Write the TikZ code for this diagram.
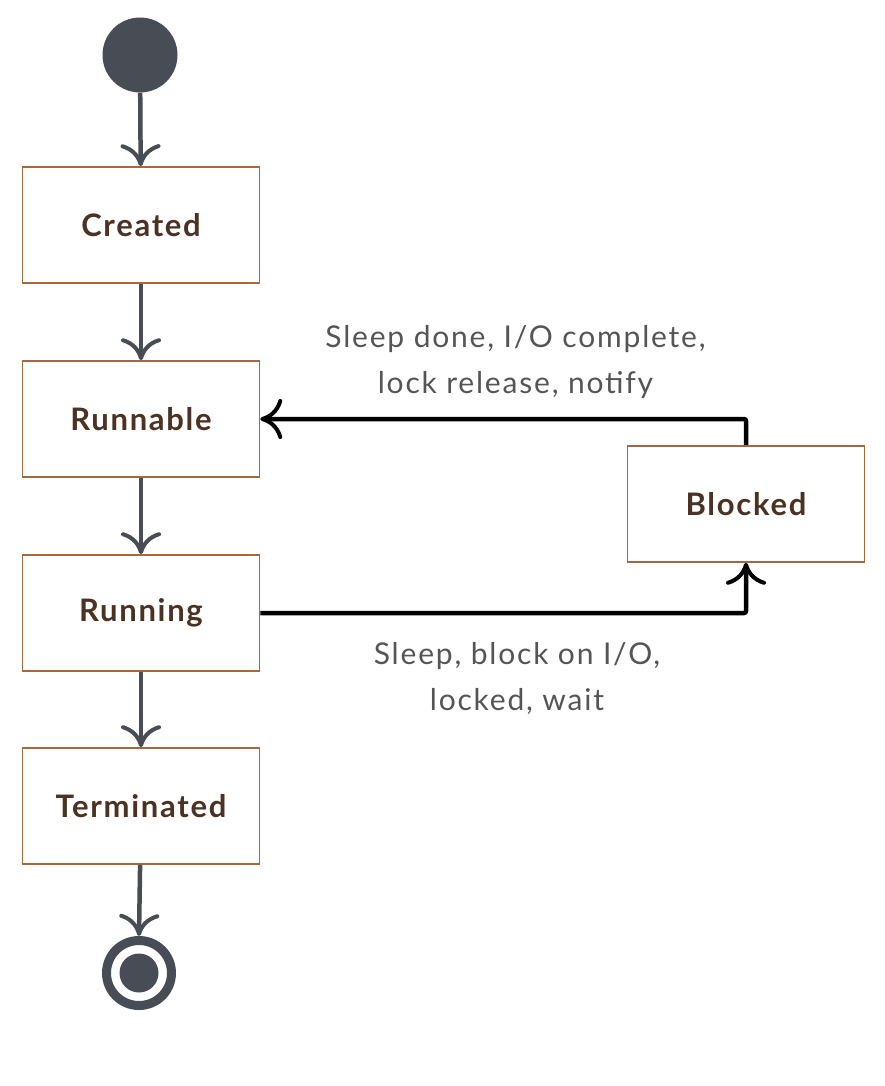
\documentclass[tikz,border=0pt]{standalone}
\usepackage{fontspec}
\setmainfont{Lato}
\newfontfamily\boxfont[LetterSpace=5.5]{Lato Bold}
\newfontfamily\lblfont[LetterSpace=6]{Lato}
\usetikzlibrary{arrows.meta}
\definecolor{dgray}{HTML}{474C55}
\definecolor{boxbrown}{HTML}{A8683C}
\definecolor{txtbrown}{HTML}{4B3223}
\definecolor{lblgray}{HTML}{555555}
\tikzset{
  statebox/.style={draw=boxbrown, line width=1.6pt, fill=white, minimum width=237pt, minimum height=116pt, inner sep=0pt, font=\boxfont\fontsize{31}{34}\selectfont, text=txtbrown},
  chev/.tip={Computer Modern Rightarrow[length=22pt, width=40pt, line width=4pt]},
  flow/.style={draw=dgray, line width=4.5pt, -chev},
  back/.style={draw=black, line width=4.5pt, rounded corners=2pt, -chev},
  lbl/.style={font=\lblfont\fontsize{30}{46}\selectfont, text=lblgray, align=center}
}
\begin{document}
\begin{tikzpicture}[x=1pt, y=-1pt]
\useasboundingbox (0,0) rectangle (885,1086);
\node[circle, fill=dgray, minimum size=75pt, inner sep=0pt] (start) at (140,55) {};
\node[statebox] (created) at (141,225) {Created};
\node[statebox] (runnable) at (141,419) {Runnable};
\node[statebox] (running) at (141,613) {Running};
\node[statebox] (terminated) at (141,806) {Terminated};
\node[statebox] (blocked) at (746,504) {Blocked};
\node[circle, draw=dgray, line width=9pt, minimum size=65pt, inner sep=0pt] (end) at (139,973) {};
\node[circle, fill=dgray, minimum size=39pt, inner sep=0pt] (enddot) at (end) {};
\draw[flow] (start) -- (created);
\draw[flow] (created) -- (runnable);
\draw[flow] (runnable) -- (running);
\draw[flow] (running) -- (terminated);
\draw[flow] (terminated) -- (end.north);
\coordinate (c1) at (blocked.north |- runnable.east);
\coordinate (c2) at (blocked.south |- running.east);
\draw[back] (blocked.north) -- (c1) -- (runnable.east);
\draw[back] (running.east) -- (c2) -- (blocked.south);
\node[lbl] (l1) at (515.5,362) {Sleep done, I/O complete,\\lock release, notify};
\node[lbl] (l2) at (517,678) {Sleep, block on I/O,\\locked, wait};
\end{tikzpicture}
\end{document}
